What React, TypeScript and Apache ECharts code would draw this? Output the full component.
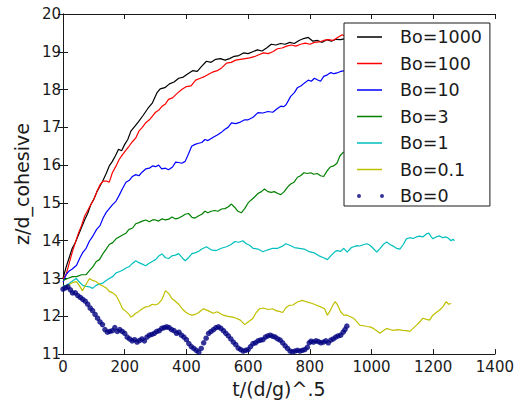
import React, { useEffect, useRef } from "react";
import * as echarts from "echarts";

const seriesNames = ["Bo=1000", "Bo=100", "Bo=10", "Bo=3", "Bo=1", "Bo=0.1", "Bo=0"];
const xTicks = [0, 200, 400, 600, 800, 1000, 1200, 1400];
const yTicks = [11, 12, 13, 14, 15, 16, 17, 18, 19, 20];

const bo1000: [number, number][] = [
  [0, 13.0], [10, 13.3], [20, 13.55], [30, 13.8], [40, 13.95], [50, 14.15], [60, 14.35], [70, 14.55], [80, 14.72], [90, 14.95],
  [100, 15.1], [110, 15.3], [120, 15.45], [130, 15.6], [140, 15.78], [150, 15.98], [160, 16.1], [170, 16.25], [180, 16.42], [190, 16.38],
  [200, 16.55], [210, 16.68], [220, 16.9], [230, 17.0], [245, 17.15], [260, 17.32], [275, 17.5], [290, 17.65], [305, 17.92], [315, 18.02],
  [330, 18.05], [345, 18.15], [360, 18.2], [375, 18.3], [390, 18.33], [405, 18.42], [420, 18.5], [435, 18.48], [450, 18.62], [465, 18.75],
  [480, 18.72], [495, 18.8], [510, 18.82], [525, 18.78], [540, 18.82], [555, 18.88], [570, 18.9], [585, 18.97], [600, 18.95], [615, 19.0],
  [630, 19.05], [645, 19.02], [660, 19.1], [675, 19.2], [690, 19.18], [705, 19.22], [720, 19.2], [735, 19.25], [750, 19.22], [765, 19.3],
  [780, 19.35], [795, 19.38], [810, 19.28], [825, 19.3], [840, 19.25], [855, 19.32], [870, 19.28], [885, 19.33], [900, 19.32], [915, 19.35],
];

const bo100: [number, number][] = [
  [0, 13.0], [10, 13.1], [20, 13.4], [30, 13.7], [40, 13.95], [50, 14.2], [60, 14.4], [70, 14.65], [80, 14.8], [90, 14.95],
  [100, 15.1], [110, 15.3], [120, 15.48], [130, 15.58], [140, 15.58], [150, 15.55], [160, 15.8], [172, 15.98], [182, 16.15], [193, 16.28],
  [204, 16.4], [214, 16.5], [225, 16.62], [236, 16.72], [246, 16.9], [257, 17.0], [268, 17.12], [280, 17.2], [290, 17.3], [300, 17.4],
  [310, 17.45], [320, 17.55], [332, 17.62], [342, 17.74], [355, 17.78], [370, 17.9], [385, 18.0], [400, 18.08], [415, 18.1], [430, 18.25],
  [445, 18.3], [460, 18.35], [475, 18.42], [487, 18.47], [500, 18.5], [515, 18.58], [530, 18.7], [545, 18.72], [560, 18.78], [575, 18.8],
  [590, 18.82], [605, 18.84], [620, 18.87], [635, 18.92], [650, 18.97], [665, 18.95], [680, 19.0], [695, 19.08], [710, 19.1], [725, 19.15],
  [740, 19.18], [755, 19.15], [770, 19.2], [785, 19.23], [800, 19.2], [815, 19.25], [830, 19.26], [845, 19.3], [860, 19.32], [875, 19.3],
  [890, 19.38], [905, 19.45], [915, 19.4],
];

const bo10: [number, number][] = [
  [0, 12.9], [10, 13.1], [20, 13.2], [30, 13.25], [44, 13.35], [55, 13.55], [65, 13.7], [75, 13.8], [85, 13.98], [95, 14.1],
  [109, 14.3], [120, 14.4], [130, 14.6], [140, 14.75], [150, 14.85], [160, 14.95], [172, 15.05], [182, 15.2], [193, 15.38], [204, 15.55],
  [215, 15.6], [225, 15.7], [236, 15.75], [246, 15.72], [257, 15.82], [268, 15.9], [280, 15.92], [290, 15.98], [300, 15.96], [310, 16.0],
  [320, 15.9], [332, 15.92], [342, 15.88], [355, 15.95], [365, 16.08], [375, 16.07], [385, 16.05], [396, 16.1], [407, 16.3], [417, 16.5],
  [428, 16.55], [440, 16.58], [450, 16.6], [460, 16.68], [470, 16.65], [487, 16.74], [500, 16.8], [515, 16.88], [525, 16.95], [535, 17.0],
  [546, 17.12], [560, 17.1], [575, 17.14], [589, 17.2], [600, 17.2], [615, 17.26], [632, 17.39], [648, 17.38], [664, 17.42], [680, 17.4],
  [695, 17.5], [706, 17.56], [716, 17.55], [723, 17.6], [738, 17.82], [750, 17.92], [760, 18.05], [772, 18.1], [782, 18.17], [795, 18.25],
  [805, 18.22], [815, 18.3], [824, 18.26], [835, 18.22], [845, 18.35], [857, 18.39], [868, 18.45], [878, 18.42], [888, 18.44], [900, 18.48],
  [915, 18.5],
];

const bo3: [number, number][] = [
  [0, 12.95], [15, 13.0], [31, 13.05], [44, 13.05], [60, 13.1], [75, 13.1], [85, 13.2], [96, 13.3], [108, 13.45], [118, 13.5],
  [129, 13.65], [140, 13.78], [150, 13.9], [161, 13.95], [172, 14.05], [182, 14.1], [193, 14.15], [204, 14.2], [214, 14.3], [225, 14.33],
  [236, 14.45], [246, 14.48], [257, 14.52], [268, 14.55], [280, 14.5], [290, 14.55], [300, 14.55], [310, 14.52], [321, 14.58], [332, 14.55],
  [343, 14.57], [353, 14.63], [364, 14.58], [375, 14.6], [386, 14.65], [396, 14.7], [407, 14.72], [418, 14.62], [428, 14.6], [440, 14.66],
  [450, 14.7], [460, 14.78], [470, 14.74], [480, 14.78], [492, 14.8], [502, 14.78], [514, 14.84], [525, 14.85], [536, 14.9], [546, 14.97],
  [557, 14.88], [567, 14.78], [578, 14.74], [589, 14.85], [600, 15.0], [610, 15.08], [620, 15.15], [632, 15.25], [643, 15.3], [653, 15.37],
  [664, 15.3], [675, 15.28], [685, 15.3], [696, 15.25], [706, 15.22], [717, 15.3], [728, 15.42], [738, 15.5], [749, 15.55], [760, 15.68],
  [770, 15.72], [781, 15.8], [792, 15.78], [803, 15.8], [813, 15.76], [824, 15.78], [835, 15.72], [845, 15.7], [856, 15.85], [866, 15.95],
  [877, 15.98], [888, 16.05], [898, 16.25], [910, 16.35],
];

const bo1: [number, number][] = [
  [0, 12.8], [10, 12.82], [22, 12.88], [33, 12.95], [43, 13.0], [54, 12.9], [64, 12.82], [75, 12.79], [86, 12.78], [96, 12.74],
  [107, 12.82], [118, 12.85], [129, 12.88], [140, 12.95], [150, 13.0], [161, 13.05], [172, 13.15], [182, 13.18], [193, 13.22], [204, 13.28],
  [214, 13.31], [225, 13.4], [236, 13.47], [246, 13.42], [257, 13.38], [268, 13.34], [278, 13.4], [289, 13.45], [300, 13.5], [311, 13.6],
  [321, 13.65], [332, 13.55], [343, 13.53], [353, 13.6], [364, 13.62], [375, 13.66], [386, 13.55], [396, 13.47], [407, 13.55], [418, 13.66],
  [428, 13.68], [440, 13.72], [450, 13.78], [465, 13.84], [480, 13.76], [497, 13.74], [513, 13.8], [530, 13.84], [545, 13.9], [557, 13.98],
  [570, 13.96], [583, 14.0], [594, 13.92], [605, 13.88], [616, 13.8], [632, 13.78], [648, 13.71], [664, 13.76], [680, 13.8], [696, 13.8],
  [710, 13.85], [722, 13.92], [735, 13.88], [750, 13.82], [766, 13.8], [782, 13.78], [798, 13.71], [814, 13.68], [830, 13.6], [845, 13.55],
  [857, 13.5], [868, 13.6], [880, 13.7], [888, 13.74], [900, 13.72], [910, 13.8], [921, 13.7], [935, 13.82], [953, 13.87], [962, 13.86],
  [975, 13.9], [985, 13.92], [995, 13.88], [1005, 13.8], [1017, 13.7], [1028, 13.8], [1038, 13.9], [1049, 13.97], [1060, 13.9], [1072, 13.85],
  [1081, 13.8], [1092, 13.78], [1103, 13.9], [1113, 14.05], [1124, 14.08], [1135, 14.06], [1145, 14.1], [1156, 14.12], [1166, 14.1], [1178, 14.18],
  [1186, 14.2], [1192, 14.12], [1199, 14.05], [1209, 14.1], [1220, 14.13], [1230, 14.08], [1242, 14.1], [1250, 14.06], [1258, 14.0], [1264, 14.04],
  [1269, 14.0],
];

const bo01: [number, number][] = [
  [0, 12.75], [11, 12.8], [22, 12.85], [33, 12.9], [44, 12.92], [54, 12.8], [63, 12.68], [75, 12.85], [86, 13.0], [96, 12.95],
  [107, 12.92], [118, 12.85], [129, 12.8], [140, 12.75], [150, 12.66], [161, 12.62], [172, 12.55], [182, 12.4], [193, 12.2], [204, 12.13],
  [214, 12.05], [220, 11.98], [225, 12.0], [236, 12.08], [246, 12.13], [257, 12.2], [268, 12.25], [278, 12.26], [289, 12.32], [300, 12.3],
  [310, 12.34], [321, 12.45], [332, 12.68], [343, 12.6], [353, 12.47], [364, 12.4], [375, 12.32], [386, 12.2], [396, 12.12], [407, 12.06],
  [418, 12.03], [428, 12.05], [440, 12.1], [455, 12.2], [470, 12.15], [487, 12.08], [500, 12.12], [519, 12.03], [535, 12.0], [550, 11.98],
  [561, 11.95], [575, 11.9], [589, 11.78], [600, 11.85], [616, 11.95], [626, 12.1], [637, 12.2], [650, 12.22], [664, 12.18], [680, 12.2],
  [690, 12.15], [701, 12.13], [712, 12.1], [722, 12.22], [733, 12.29], [745, 12.3], [760, 12.38], [776, 12.42], [790, 12.38], [808, 12.34],
  [820, 12.3], [835, 12.25], [848, 12.2], [857, 12.03], [866, 12.15], [875, 12.3], [882, 12.39], [890, 12.3], [900, 12.12], [910, 12.03],
  [921, 12.03], [942, 11.95], [963, 11.76], [975, 11.75], [985, 11.73], [995, 11.72], [1006, 11.68], [1017, 11.62], [1027, 11.55], [1038, 11.62],
  [1049, 11.68], [1060, 11.65], [1070, 11.63], [1085, 11.65], [1102, 11.63], [1113, 11.62], [1124, 11.6], [1135, 11.68], [1145, 11.76], [1156, 11.85],
  [1167, 11.95], [1178, 11.92], [1188, 11.9], [1199, 12.03], [1210, 12.1], [1220, 12.16], [1231, 12.25], [1242, 12.39], [1250, 12.32], [1258, 12.34],
];

const bo0: [number, number][] = [
  [0, 12.72], [8, 12.75], [16, 12.78], [24, 12.7], [31, 12.62], [40, 12.62], [48, 12.55], [56, 12.5], [64, 12.45], [72, 12.4],
  [80, 12.32], [88, 12.22], [96, 12.15], [104, 12.05], [112, 11.95], [120, 11.85], [128, 11.78], [136, 11.65], [144, 11.58], [152, 11.6],
  [160, 11.62], [168, 11.7], [176, 11.6], [184, 11.65], [192, 11.6], [200, 11.55], [208, 11.45], [216, 11.4], [224, 11.35], [232, 11.38],
  [240, 11.32], [248, 11.36], [256, 11.4], [264, 11.35], [272, 11.45], [280, 11.5], [288, 11.52], [296, 11.55], [304, 11.6], [312, 11.62],
  [320, 11.68], [328, 11.7], [336, 11.72], [344, 11.7], [352, 11.65], [360, 11.62], [368, 11.55], [376, 11.58], [384, 11.5], [392, 11.45],
  [400, 11.38], [408, 11.28], [416, 11.2], [424, 11.15], [432, 11.1], [440, 11.05], [448, 11.15], [456, 11.3], [464, 11.42], [472, 11.55],
  [480, 11.6], [488, 11.65], [496, 11.7], [504, 11.72], [512, 11.68], [520, 11.62], [528, 11.55], [536, 11.48], [544, 11.4], [552, 11.32],
  [560, 11.25], [568, 11.16], [576, 11.12], [584, 11.08], [592, 11.1], [600, 11.12], [608, 11.2], [616, 11.28], [624, 11.3], [632, 11.35],
  [640, 11.37], [648, 11.38], [656, 11.45], [664, 11.48], [672, 11.5], [680, 11.47], [688, 11.45], [696, 11.4], [704, 11.37], [712, 11.3],
  [720, 11.22], [728, 11.15], [736, 11.08], [744, 11.06], [752, 11.08], [760, 11.1], [768, 11.08], [776, 11.1], [784, 11.12], [792, 11.18],
  [798, 11.3], [804, 11.34], [812, 11.32], [820, 11.35], [828, 11.33], [836, 11.3], [844, 11.32], [852, 11.35], [860, 11.3], [868, 11.37],
  [876, 11.4], [884, 11.45], [892, 11.48], [900, 11.5], [908, 11.58], [914, 11.65], [920, 11.74],
];

const lineData = [bo1000, bo100, bo10, bo3, bo1, bo01];
const colors = ["#000000", "#ff0000", "#0000ff", "#008000", "#00bfbf", "#bfbf00", "#000080"];

const FONT = "DejaVu Sans";
const LINE_ICON = "path://M0,0H25V1.6H0Z M38,0L38,1.6Z";
const DOT_ICON = "path://M0,2a2,2 0 1,0 4,0a2,2 0 1,0 -4,0Z M23,2a2,2 0 1,0 4,0a2,2 0 1,0 -4,0Z M38,2L38,2.01Z";

export default function App() {
  const ref = useRef<HTMLDivElement>(null);
  useEffect(() => {
    if (!ref.current) return;
    const chart = echarts.init(ref.current, null, { renderer: "svg" });
    const axisLine = { show: true, lineStyle: { color: "#1a1a1a", width: 1 } };
    const tick = { show: true, inside: true, length: 5, lineStyle: { color: "#1a1a1a", width: 1 } };
    const xMin = xTicks[0];
    const xMax = xTicks[xTicks.length - 1];
    const yMin = yTicks[0];
    const yMax = yTicks[yTicks.length - 1];
    const series: any[] = lineData.map((d, i) => ({
      name: seriesNames[i],
      type: "line",
      data: d,
      showSymbol: false,
      symbol: "none",
      xAxisIndex: 0,
      yAxisIndex: 0,
      lineStyle: { color: colors[i], width: 1.2 },
      itemStyle: { color: colors[i], borderColor: colors[i], borderWidth: 0 },
      clip: true,
      z: 2 + i,
    }));
    series.push({
      name: seriesNames[6],
      type: "scatter",
      data: bo0,
      symbol: "circle",
      symbolSize: 5.5,
      itemStyle: { color: colors[6] },
      clip: true,
      z: 10,
    });
    chart.setOption({
      animation: false,
      backgroundColor: "#ffffff",
      textStyle: { fontFamily: FONT },
      grid: { left: 63, right: 18, top: 14, bottom: 47, containLabel: false },
      xAxis: [
        {
          type: "value",
          min: xMin,
          max: xMax,
          interval: 200,
          position: "bottom",
          name: "t/(d/g)^.5",
          nameLocation: "middle",
          nameGap: 16,
          nameTextStyle: { fontFamily: FONT, fontSize: 19, color: "#1a1a1a" },
          axisLine,
          axisTick: tick,
          splitLine: { show: false },
          axisLabel: { fontFamily: FONT, fontSize: 15, color: "#1a1a1a", margin: 5, formatter: (v: number) => String(v) },
        },
        {
          type: "value",
          min: xMin,
          max: xMax,
          interval: 200,
          position: "top",
          axisLine,
          axisTick: tick,
          splitLine: { show: false },
          axisLabel: { show: false },
        },
      ],
      yAxis: [
        {
          type: "value",
          min: yMin,
          max: yMax,
          interval: 1,
          position: "left",
          name: "z/d_cohesive",
          nameLocation: "middle",
          nameGap: 22,
          nameTextStyle: { fontFamily: FONT, fontSize: 19, color: "#1a1a1a" },
          axisLine,
          axisTick: tick,
          splitLine: { show: false },
          axisLabel: { fontFamily: FONT, fontSize: 15, color: "#1a1a1a", margin: 2 },
        },
        {
          type: "value",
          min: yMin,
          max: yMax,
          interval: 1,
          position: "right",
          axisLine,
          axisTick: tick,
          splitLine: { show: false },
          axisLabel: { show: false },
        },
      ],
      legend: {
        orient: "vertical",
        left: 344,
        top: 23,
        padding: [5, 8, 1, 13],
        itemWidth: 38,
        itemHeight: 14,
        itemGap: 8.5,
        symbolKeepAspect: true,
        backgroundColor: "#ffffff",
        borderColor: "#1a1a1a",
        borderWidth: 1,
        borderRadius: 0,
        itemStyle: { borderWidth: 0 },
        textStyle: { fontFamily: FONT, fontSize: 17.5, color: "#1a1a1a" },
        data: [
          ...seriesNames.slice(0, 6).map((n, i) => ({
            name: n,
            icon: LINE_ICON,
            itemStyle: { color: colors[i], borderColor: colors[i], borderWidth: 0 },
          })),
          { name: seriesNames[6], icon: DOT_ICON, itemStyle: { color: colors[6], borderWidth: 0 } },
        ],
        z: 20,
      },
      series,
    });
    return () => chart.dispose();
  }, []);
  return (
    <div
      ref={ref}
      style={{ position: "fixed", left: 0, top: 0, width: 517, height: 403, background: "#fff" }}
    />
  );
}
